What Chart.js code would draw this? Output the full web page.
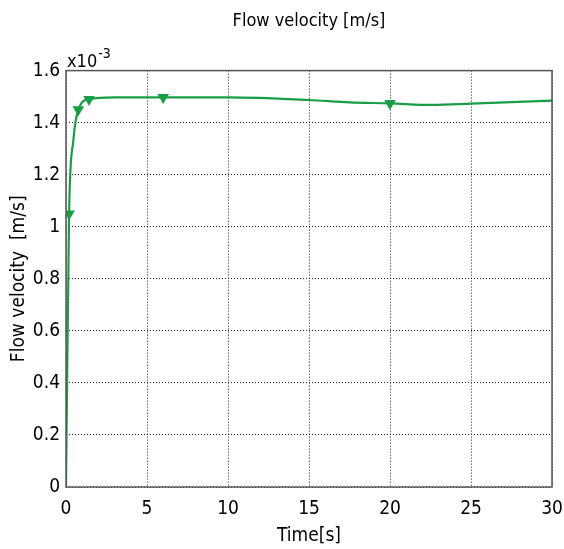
<!DOCTYPE html>
<html>
<head>
<meta charset="utf-8">
<script src="https://cdn.jsdelivr.net/npm/chart.js@4"></script>
<style>
  html, body { margin: 0; padding: 0; background: #fff; }
  #wrap { width: 564px; height: 549px; }
</style>
</head>
<body>
<div id="wrap"><canvas id="chart"></canvas></div>
<script>
// time [s] and flow velocity [x1e-3 m/s]
const times    = [0, 0.19, 0.45, 0.76, 1.42, 3, 6, 10, 15, 17.5, 20, 22.6, 25, 30];
const velocity = [0, 1.05, 1.33, 1.45, 1.49, 1.497, 1.497, 1.497, 1.487, 1.478, 1.474, 1.468, 1.473, 1.485];
const markerTimes = [0.19, 0.76, 1.42, 6, 20];
const yTicks = [0, 0.2, 0.4, 0.6, 0.8, 1, 1.2, 1.4, 1.6];

const FONT = "'DejaVu Sans Condensed', 'DejaVu Sans', sans-serif";
const green = "#1a9e45";

const frame = {
  id: "frame",
  afterDraw(chart) {
    const { ctx, chartArea: a } = chart;
    ctx.save();
    ctx.strokeStyle = "#555";
    ctx.lineWidth = 1.5;
    ctx.strokeRect(a.left, a.top, a.right - a.left, a.bottom - a.top);
    // exponent label
    ctx.fillStyle = "#000";
    ctx.textBaseline = "alphabetic";
    ctx.font = "18px " + FONT;
    ctx.fillText("x10", a.left + 1, a.top - 4);
    const w = ctx.measureText("x10").width;
    ctx.font = "14px " + FONT;
    ctx.fillText("-3", a.left + 1 + w + 1, a.top - 13);
    ctx.restore();
  }
};

new Chart(document.getElementById("chart"), {
  type: "line",
  data: {
    datasets: [{
      data: times.map((t, i) => ({ x: t, y: velocity[i] })),
      borderColor: green,
      backgroundColor: green,
      borderWidth: 2.2,
      cubicInterpolationMode: "monotone",
      pointStyle: "triangle",
      rotation: 180,
      pointRadius: times.map(t => markerTimes.includes(t) ? 4.5 : 0),
      pointHoverRadius: 0
    }]
  },
  options: {
    responsive: true,
    maintainAspectRatio: false,
    animation: false,
    layout: { padding: { left: 0, right: 12, top: 0, bottom: 0 } },
    plugins: {
      legend: { display: false },
      tooltip: { enabled: false },
      title: {
        display: true,
        fullSize: false,
        text: "Flow velocity [m/s]",
        color: "#000",
        font: { family: FONT, size: 18, weight: "normal" },
        padding: { top: 11, bottom: 38 }
      }
    },
    scales: {
      x: {
        type: "linear",
        min: 0, max: 30,
        afterFit: s => { s.height = 62; s.paddingLeft = 0; s.paddingRight = 0; },
        ticks: { stepSize: 5, color: "#000", padding: 11, maxRotation: 0,
                 font: { family: FONT, size: 19 } },
        grid: { color: "#222", drawTicks: false, lineWidth: 1 },
        border: { display: false, dash: [1, 2] },
        title: { display: true, text: "Time[s]", color: "#000",
                 font: { family: FONT, size: 19 }, padding: { top: 0, bottom: 2 } }
      },
      y: {
        min: 0, max: 1.6,
        afterFit: s => { s.width = 66; s.paddingTop = 0; s.paddingBottom = 0; },
        afterBuildTicks: s => { s.ticks = yTicks.map(v => ({ value: v })); },
        ticks: { color: "#000", padding: 6, font: { family: FONT, size: 19 },
                 callback: v => String(Math.round(v * 10) / 10) },
        grid: { color: "#222", drawTicks: false, lineWidth: 1 },
        border: { display: false, dash: [1, 2] },
        title: { display: true, text: "Flow velocity  [m/s]", color: "#000",
                 font: { family: FONT, size: 19 }, padding: { top: 8, bottom: 0 } }
      }
    }
  },
  plugins: [frame]
});
</script>
</body>
</html>
